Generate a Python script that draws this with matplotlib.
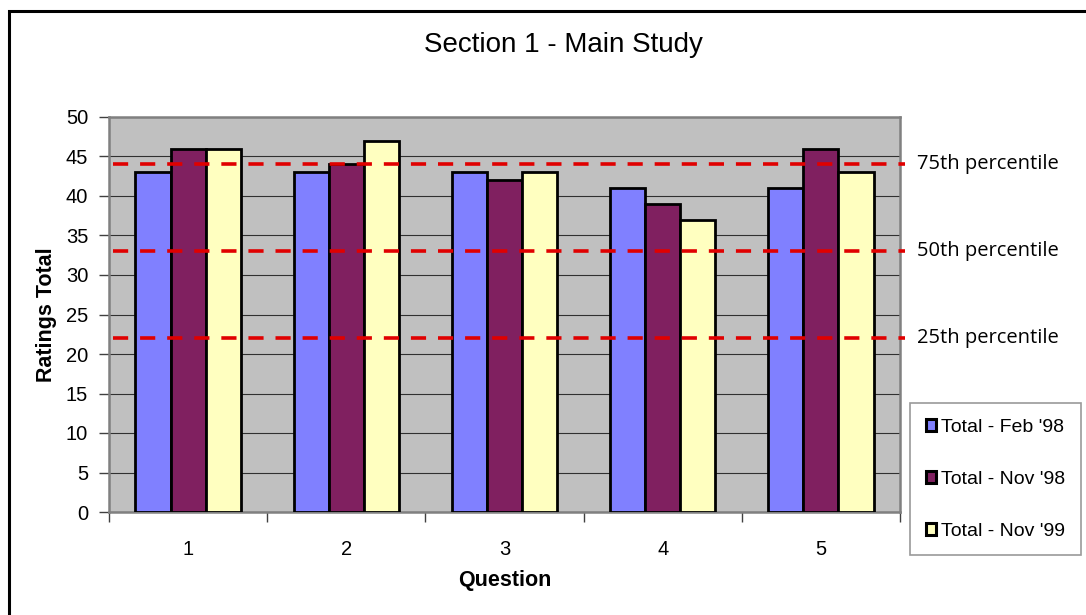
import matplotlib
matplotlib.use("Agg")
import matplotlib.pyplot as plt
from matplotlib.patches import Patch
import numpy as np

questions = ["1", "2", "3", "4", "5"]
feb_98 = [43, 43, 43, 41, 41]
nov_98 = [46, 44, 42, 39, 46]
nov_99 = [46, 47, 43, 37, 43]
series_names = ["Total - Feb '98", "Total - Nov '98", "Total - Nov '99"]
series_colors = ["#8080FF", "#802060", "#FFFFC0"]
percentiles = [44, 33, 22]
percentile_labels = ["75th percentile", "50th percentile", "25th percentile"]

plt.rcParams['font.family'] = ['Liberation Sans', 'DejaVu Sans']

fig = plt.figure(figsize=(10.86, 6.15), dpi=100)
ax = fig.add_axes([109 / 1086, 1 - 512 / 615, 791 / 1086, 395 / 615])

# outer chart frame (left and top visible)
fig.add_artist(plt.Rectangle((9 / 1086, -0.1), 1.2, 1.1 - 11 / 615, transform=fig.transFigure,
                             fill=False, edgecolor="black", linewidth=2.2))

x = np.arange(len(questions))
w = 0.222
for i, (vals, name, col) in enumerate(zip([feb_98, nov_98, nov_99], series_names, series_colors)):
    ax.bar(x + (i - 1) * w, vals, width=w, color=col, edgecolor="black", linewidth=2.0,
           label=name, zorder=3)

ax.set_facecolor("#C0C0C0")
ax.set_xlim(-0.5, 4.5)
ax.set_ylim(0, 50)
ax.set_yticks(range(0, 51, 5))
ax.yaxis.grid(True, color="#303030", linewidth=0.8, zorder=1)
ax.set_axisbelow(True)
for s in ax.spines.values():
    s.set_color("#808080")
    s.set_linewidth(1.8)

ax.set_xticks(x)
ax.set_xticklabels(questions)
ax.set_xticks(np.arange(-0.5, 5, 1), minor=True)
ax.tick_params(axis="x", which="major", length=0, pad=20, labelsize=14.5)
ax.tick_params(axis="x", which="minor", length=7, width=1, direction="out", color="#404040")
ax.tick_params(axis="y", length=7, width=1, labelsize=14.5, pad=8, color="#404040")

for p, lab in zip(percentiles, percentile_labels):
    ln = ax.axhline(p, xmin=0.005, xmax=1.006, color="#E00000", linewidth=2.6, clip_on=False, zorder=4)
    ln.set_dashes((4.2, 3.3))
    ax.text(1.021, p, lab, transform=ax.get_yaxis_transform(), va="center", ha="left",
            fontsize=14.5, family=["Open Sans", "DejaVu Sans"])

ax.set_xlabel("Question", fontsize=15.5, fontweight="bold", labelpad=8)
ax.set_ylabel("Ratings Total", fontsize=15.5, fontweight="bold", labelpad=6)
fig.text(563 / 1086, 1 - 45 / 615, "Section 1 - Main Study", ha="center", va="center", fontsize=20)

handles = [Patch(facecolor=c, edgecolor="black", linewidth=2.2) for c in series_colors]
leg = fig.legend(handles, series_names, loc="upper left",
                 bbox_to_anchor=(910 / 1086, 1 - 403 / 615), fontsize=14,
                 handlelength=0.55, handleheight=0.55, handletextpad=0.25,
                 labelspacing=1.8, borderpad=0.8, borderaxespad=0, fancybox=False,
                 frameon=True)
leg.get_frame().set_edgecolor("#808080")
leg.get_frame().set_linewidth(1.2)

fig.savefig("out.png", dpi=100)
